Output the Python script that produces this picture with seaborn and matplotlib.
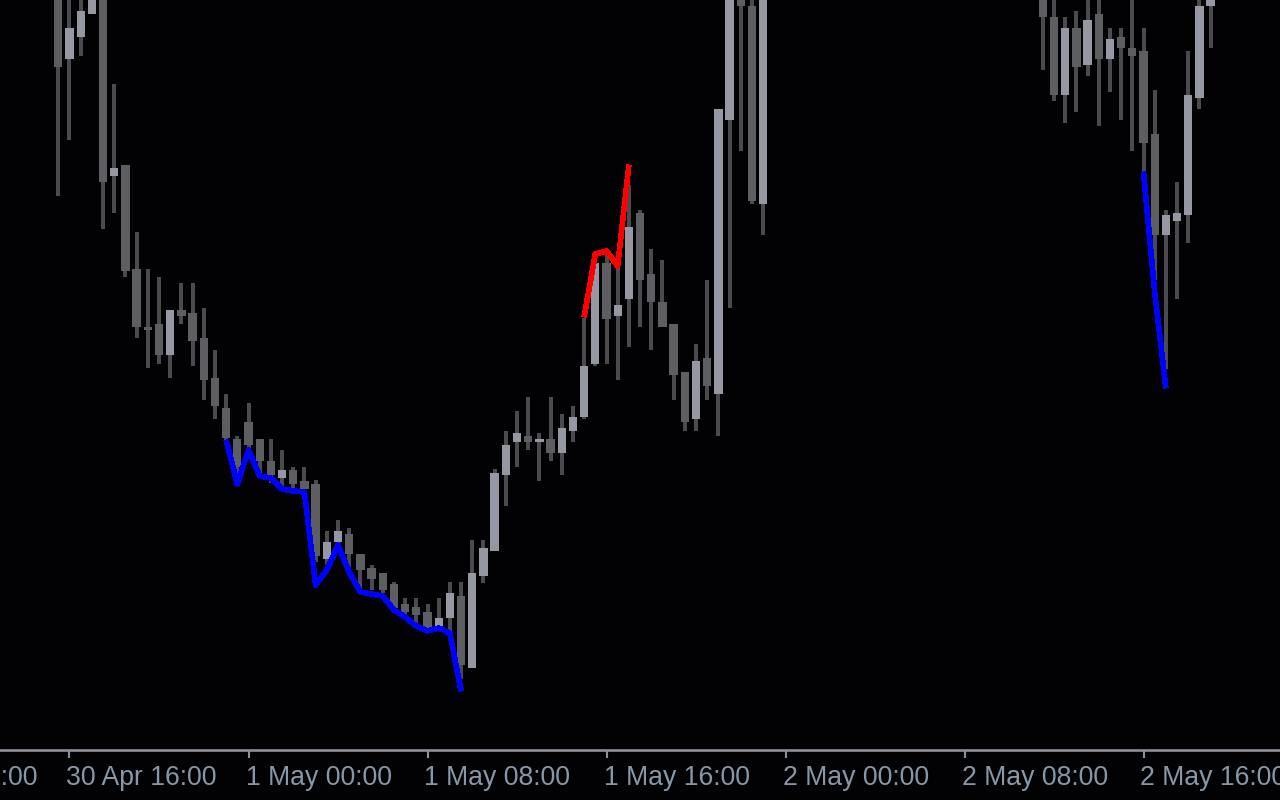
import numpy as np
import pandas as pd
import matplotlib
matplotlib.use("Agg")
import matplotlib.pyplot as plt
import matplotlib.transforms as mtransforms
import seaborn as sns

# ---------------- data ----------------
# 30-minute candles, first one at 30 Apr 15:30
start_time = "2024-04-30 15:30"
n_candles = 104
nan = np.nan

opens = [2378.0, 2369.1, 2371.3, 2373.6, 2377.0, 2357.4, 2358.5, 2348.1, 2342.3, 2342.6,
         2339.5, 2344.0, 2343.7, 2341.2, 2337.2, 2334.2, 2331.1, 2332.8, 2331.1, 2328.9,
         2327.2, 2328.0, 2326.9, 2326.6, 2319.1, 2320.8, 2321.6, 2319.6, 2318.2, 2317.7,
         2316.6, 2314.6, 2314.3, 2313.8, 2312.3, 2313.2, 2315.4, 2308.2, 2317.4, 2319.9,
         2327.5, 2330.8, 2331.4, 2330.8, 2331.1, 2329.7, 2331.9, 2333.3, 2338.6, 2348.7,
         2343.4, 2345.1, 2353.7, 2347.6, 2344.8, 2342.6, 2337.8, 2333.1, 2339.2, 2335.6,
         2363.0, 2376.0, 2374.4, 2354.6] + [nan] * 24 + \
        [2376.0, 2373.3, 2365.5, 2372.2, 2368.5, 2373.6, 2369.1, 2371.3, 2370.2, 2369.9,
         2361.6, 2351.5, 2352.9, 2353.5, 2365.2, 2374.4]
highs = [2379.0, 2376.5, 2376.0, 2378.5, 2378.0, 2366.6, 2358.5, 2351.8, 2348.1, 2347.3,
         2344.0, 2346.7, 2346.7, 2344.2, 2340.0, 2335.6, 2331.4, 2334.7, 2331.1, 2331.1,
         2330.0, 2328.3, 2328.3, 2327.0, 2321.9, 2323.0, 2322.2, 2319.6, 2318.5, 2317.7,
         2316.8, 2315.2, 2315.2, 2314.6, 2315.2, 2316.8, 2316.8, 2321.0, 2321.0, 2328.1,
         2331.9, 2333.9, 2335.3, 2331.7, 2335.3, 2333.6, 2334.4, 2343.2, 2349.2, 2349.5,
         2348.2, 2356.5, 2354.0, 2350.1, 2349.0, 2342.6, 2337.8, 2340.6, 2347.0, 2364.1,
         2379.0, 2377.0, 2376.0, 2378.0] + [nan] * 24 + \
        [2377.0, 2376.0, 2373.3, 2373.9, 2375.5, 2375.5, 2372.2, 2372.2, 2375.5, 2372.2,
         2366.0, 2354.0, 2356.8, 2369.9, 2375.5, 2376.0]
lows = [2355.4, 2361.0, 2369.4, 2373.6, 2352.1, 2353.7, 2347.3, 2341.2, 2338.2, 2338.6,
        2337.2, 2342.6, 2338.4, 2335.0, 2333.1, 2330.9, 2327.2, 2330.2, 2327.7, 2326.7,
        2326.3, 2326.2, 2325.5, 2318.8, 2318.5, 2320.3, 2317.8, 2316.0, 2316.0, 2315.7,
        2314.0, 2313.3, 2312.7, 2311.8, 2312.2, 2311.8, 2307.1, 2308.2, 2316.7, 2319.9,
        2324.4, 2328.3, 2330.0, 2326.9, 2328.9, 2327.5, 2330.8, 2333.1, 2338.4, 2338.6,
        2337.0, 2340.3, 2342.3, 2340.0, 2342.3, 2335.0, 2331.9, 2331.9, 2335.0, 2331.4,
        2344.2, 2359.9, 2354.6, 2351.5] + [nan] * 24 + \
       [2368.0, 2364.9, 2362.7, 2363.8, 2367.4, 2362.4, 2365.8, 2363.0, 2359.9, 2357.8,
        2347.0, 2338.1, 2345.1, 2350.7, 2364.1, 2370.2]
closes = [2368.3, 2372.2, 2373.9, 2377.5, 2356.8, 2358.2, 2347.9, 2342.3, 2342.0, 2339.5,
          2344.0, 2343.4, 2340.9, 2337.0, 2334.4, 2331.2, 2328.3, 2330.5, 2328.9, 2327.5,
          2328.0, 2326.6, 2326.1, 2319.4, 2320.8, 2321.9, 2319.6, 2318.0, 2317.1, 2316.0,
          2314.2, 2313.8, 2313.5, 2312.1, 2313.2, 2315.7, 2308.5, 2317.7, 2320.2, 2327.7,
          2330.5, 2331.7, 2330.8, 2331.1, 2329.7, 2332.2, 2333.3, 2338.4, 2348.7, 2343.1,
          2344.5, 2352.3, 2347.0, 2344.8, 2342.3, 2337.5, 2332.8, 2338.9, 2336.4, 2364.1,
          2378.0, 2374.4, 2354.9, 2377.0] + [nan] * 24 + \
         [2373.3, 2365.5, 2372.2, 2368.3, 2373.0, 2369.1, 2371.1, 2370.2, 2369.4, 2360.7,
          2351.5, 2353.5, 2353.7, 2365.5, 2374.4, 2375.8]

# indicator lines (price at candle times)
blue1_start = "2024-04-30 23:00"
blue1_vals = [2331.0, 2326.6, 2330.0, 2327.4, 2327.2, 2326.1, 2325.9, 2325.8, 2316.5, 2318.0,
              2320.5, 2317.8, 2315.8, 2315.6, 2315.4, 2314.0, 2313.3, 2312.4, 2311.9, 2312.2,
              2311.7, 2305.9]
red_start = "2024-05-01 15:00"
red_vals = [2343.3, 2349.6, 2349.9, 2348.4, 2358.5]
blue2_start = "2024-05-02 16:00"
blue2_vals = [2357.8, 2345.8, 2336.2]

tick_times = ["2024-04-30 08:00", "2024-04-30 16:00", "2024-05-01 00:00", "2024-05-01 08:00",
              "2024-05-01 16:00", "2024-05-02 00:00", "2024-05-02 08:00", "2024-05-02 16:00"]

# ---------------- helpers ----------------
ref = pd.Timestamp("2024-05-01 00:00")
step = pd.Timedelta(minutes=30)


def to_idx(ts):
    return (pd.Timestamp(ts) - ref) / step


times = pd.date_range(start_time, periods=n_candles, freq="30min")
df = pd.DataFrame({"t": times, "open": opens, "high": highs, "low": lows, "close": closes})
df["x"] = (df["t"] - ref) / step
df = df.dropna()

lines = []
for name, st, vals in [("blue1", blue1_start, blue1_vals), ("red", red_start, red_vals),
                       ("blue2", blue2_start, blue2_vals)]:
    tt = pd.date_range(st, periods=len(vals), freq="30min")
    lines.append(pd.DataFrame({"x": (tt - ref) / step, "price": vals, "seg": name}))
lines = pd.concat(lines, ignore_index=True)

# ---------------- style ----------------
BG = "#020204"
BULL = "#9598a2"
BEAR = "#5d5e62"
WICK = "#4b4b4f"
AXC = "#8d9099"
TXT = "#8797a8"

sns.set_theme(style="dark", rc={"axes.facecolor": BG, "figure.facecolor": BG,
                                "savefig.facecolor": BG, "axes.grid": False})
plt.rcParams["font.family"] = ["Liberation Sans", "DejaVu Sans"]

fig = plt.figure(figsize=(12.8, 8), dpi=100)
ax = fig.add_axes([0, 50 / 800, 1, 750 / 800])
ax.set_facecolor(BG)

# wicks
ax.vlines(df["x"], df["low"], df["high"], colors=WICK, linewidth=1.7, antialiased=False, zorder=2)
# bodies
bull = df["close"] >= df["open"]
bottoms = np.minimum(df["open"], df["close"])
heights = np.maximum(np.abs(df["close"] - df["open"]), 0.2)
ax.bar(df["x"], heights, bottom=bottoms, width=0.74,
       color=np.where(bull, BULL, BEAR), linewidth=0, antialiased=False, zorder=3)

# indicator lines via seaborn
sns.lineplot(data=lines, x="x", y="price", hue="seg", units="seg", estimator=None,
             palette={"blue1": "#0000ff", "blue2": "#0000ff", "red": "#ff0000"},
             linewidth=3.3, legend=False, ax=ax, zorder=4,
             solid_capstyle="butt", antialiased=False)

for s in ["top", "left", "right"]:
    ax.spines[s].set_visible(False)
ax.spines["bottom"].set_color(AXC)
ax.spines["bottom"].set_linewidth(1.9)

tick_x = [to_idx(t) for t in tick_times]
ax.set_xticks(tick_x)
ax.set_xticklabels([])
ax.tick_params(axis="x", direction="out", length=5.5, width=1.5, color=AXC, bottom=True)
ax.set_yticks([])
ax.set_xlabel("")
ax.set_ylabel("")

# view limits set after the ticks so the ticks do not widen them
ax.set_xlim(-248.5 / 11.1875, (1280 - 248.5) / 11.1875)
ax.set_ylim(2300.0, 2375.0)

trans = mtransforms.blended_transform_factory(ax.transData, ax.transAxes)
for t, xv in zip(tick_times, tick_x):
    ts = pd.Timestamp(t)
    lab = f"{ts.day} {ts:%b %H:%M}"
    ax.text(xv - 3 / 11.1875, -35 / 750, lab, transform=trans, ha="left", va="baseline",
            color=TXT, fontsize=19.2, clip_on=False)

fig.savefig("out.png", dpi=100, facecolor=BG)
